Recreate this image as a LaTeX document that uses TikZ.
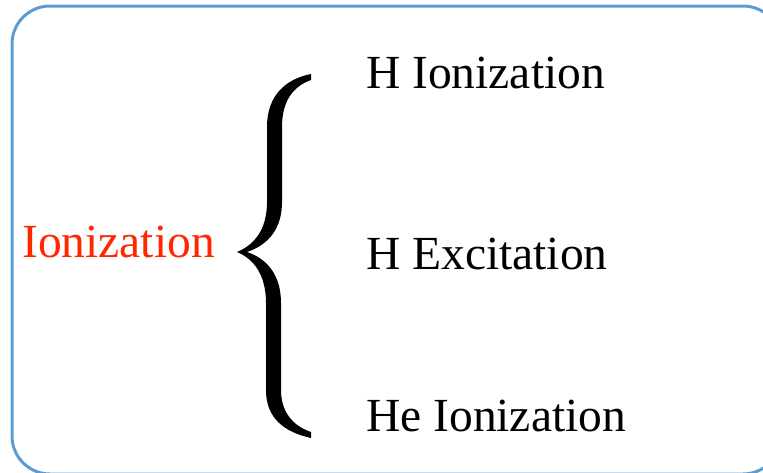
\documentclass[tikz,border=0pt]{standalone}
\usepackage{fontspec}
\setmainfont{Liberation Serif}
\definecolor{boxblue}{RGB}{91,155,213}
\definecolor{labred}{RGB}{255,38,0}
\begin{document}
\begin{tikzpicture}[x=1pt,y=-1pt,
  lab/.style={anchor=base west,inner sep=0pt,font=\fontsize{47.5}{50}\selectfont},
  frame/.style={draw=boxblue,line width=3pt,rounded corners=38pt}]
\useasboundingbox (0,0) rectangle (763,472);
\draw[frame] (12,6) rectangle (781,474);
\node[lab,text=labred] (main) at (22,257) {Ionization};
\node[lab] (a) at (366,88) {H Ionization};
\node[lab] (b) at (366,269) {H Excitation};
\node[lab] (c) at (366,431) {He Ionization};
\fill (311,74) .. controls (286,79) and (267,95) .. (267,127)
  -- (267,202) .. controls (267,230) and (254,245) .. (237,252)
  .. controls (254,259) and (266,275) .. (266,303)
  -- (266,390) .. controls (266,418) and (284,432) .. (311,438)
  -- (311,432) .. controls (293,426) and (281,412) .. (281,390)
  -- (281,303) .. controls (281,276) and (268,259) .. (247,252)
  .. controls (268,245) and (282,229) .. (282,202)
  -- (282,127) .. controls (282,100) and (294,86) .. (311,80) -- cycle;
\end{tikzpicture}
\end{document}
